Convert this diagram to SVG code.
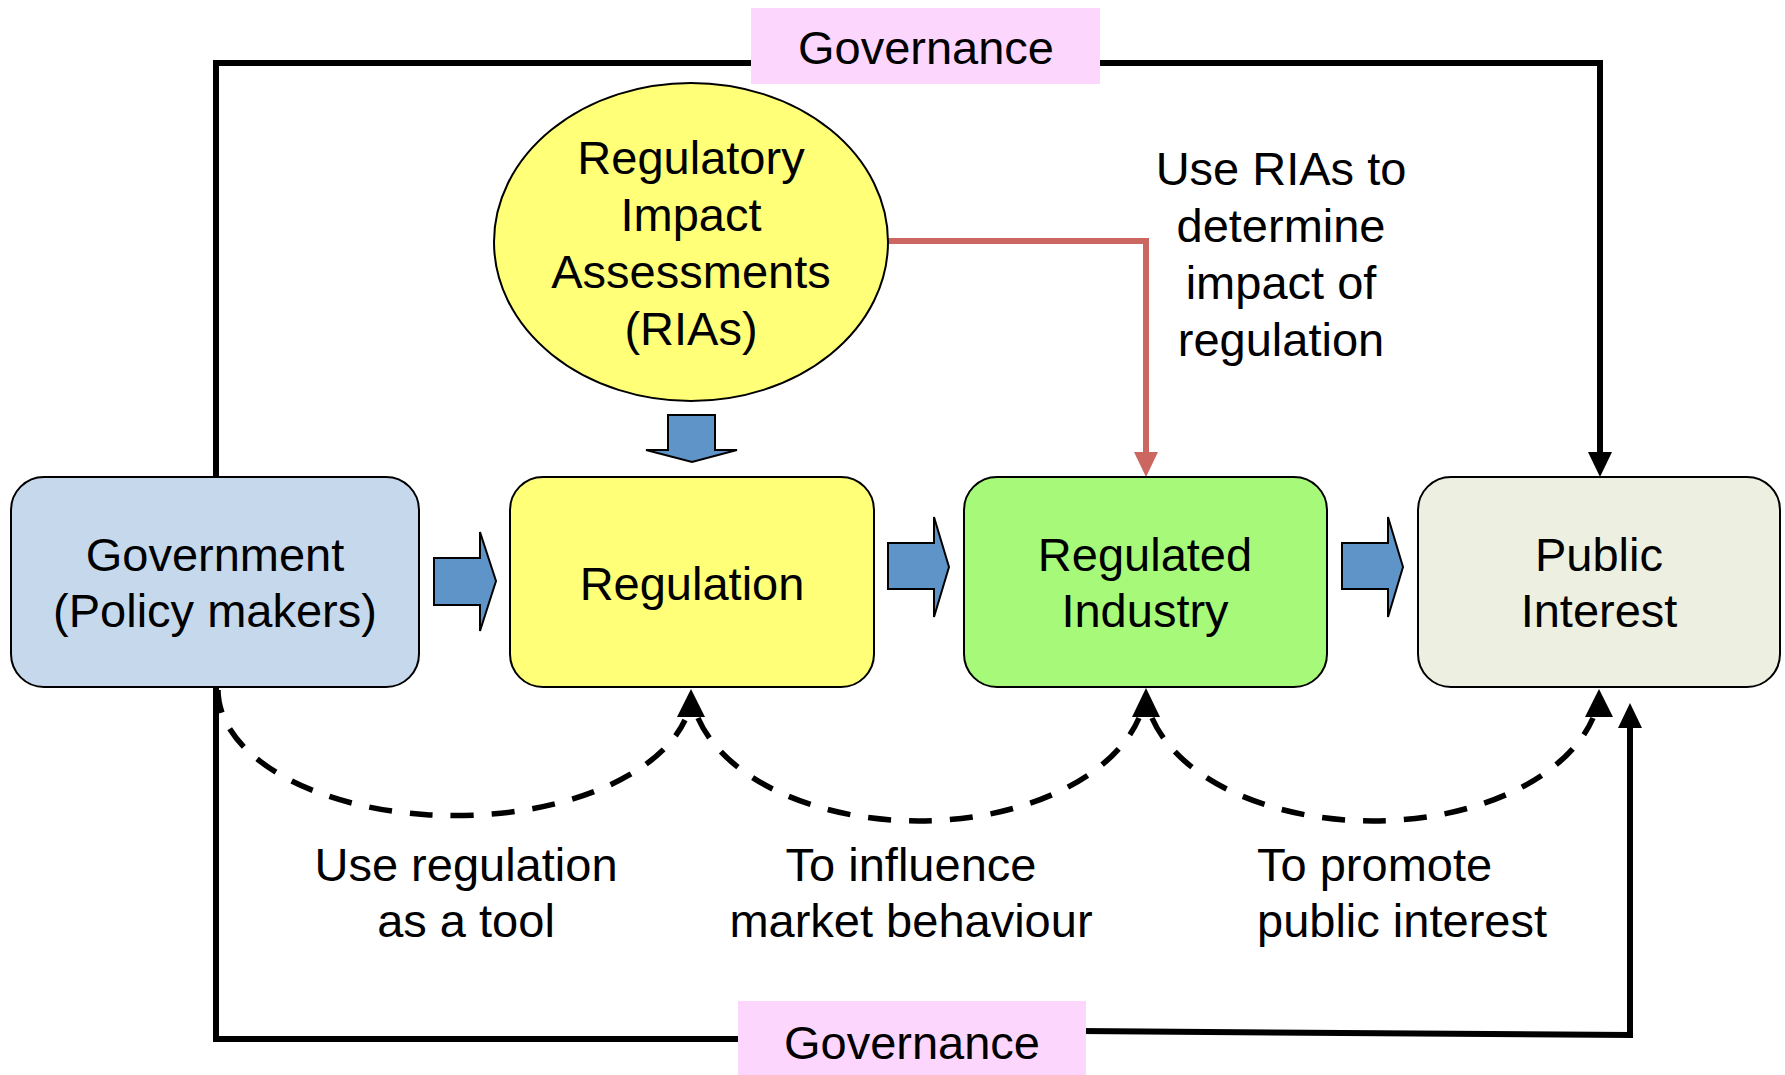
<svg xmlns="http://www.w3.org/2000/svg" width="1785" height="1075" viewBox="0 0 1785 1075">
  <style>
    text { font-family: "Liberation Sans", Arial, sans-serif; font-size: 47px; fill: #000; }
    .c { text-anchor: middle; }
    .box { stroke: #000; stroke-width: 2; }
    .gov { fill: #fdd6fd; }
    .solid { fill: none; stroke: #000; stroke-width: 6; }
    .red { fill: none; stroke: #cc6660; stroke-width: 6; }
    .dash { fill: none; stroke: #000; stroke-width: 5.5; stroke-dasharray: 23 18; }
    .block { fill: #5f94c8; stroke: #000; stroke-width: 2; stroke-linejoin: miter; }
  </style>
  <defs>
    <marker id="headBlack" markerUnits="userSpaceOnUse" markerWidth="26" markerHeight="24" refX="0" refY="12" orient="auto">
      <path d="M0,0 L25,12 L0,24 Z" fill="#000"/>
    </marker>
    <marker id="headRed" markerUnits="userSpaceOnUse" markerWidth="26" markerHeight="24" refX="0" refY="12" orient="auto">
      <path d="M0,0 L25,12 L0,24 Z" fill="#cc6660"/>
    </marker>
  </defs>

  <g id="connectors">
    <!-- top governance loop -->
    <path class="solid" d="M216 477 V63 H1600 V452" marker-end="url(#headBlack)"/>
    <!-- bottom governance loop -->
    <path class="solid" d="M216 687 V1039 H745"/>
    <path class="solid" d="M1080 1031 L1630 1035 V728" marker-end="url(#headBlack)"/>
    <!-- RIA to regulated industry -->
    <path class="red" d="M888 241 H1146 V452" marker-end="url(#headRed)"/>
    <!-- dashed arcs -->
    <path class="dash" d="M218 690 A237 126 0 0 0 685 720" />
    <path class="dash" d="M698 718 A228 138 0 0 0 1139 718" />
    <path class="dash" d="M1152 718 A228 138 0 0 0 1593 718" />
    <path d="M691 689 L705 717 L677 717 Z" fill="#000"/>
    <path d="M1146 688 L1160 717 L1132 717 Z" fill="#000"/>
    <path d="M1599 689 L1613 717 L1585 717 Z" fill="#000"/>
    <!-- block arrows -->
    <polygon class="block" points="668,415 715,415 715,450 737,450 692,462 646,450 668,450"/>
    <polygon class="block" points="434,558 480,558 480,532 496,581 480,631 480,605 434,605"/>
    <polygon class="block" points="888,543 934,543 934,517 949,567 934,617 934,589 888,589"/>
    <polygon class="block" points="1342,543 1388,543 1388,517 1403,567 1388,617 1388,589 1342,589"/>
    <!-- connector labels -->
    <text class="c" x="1281" y="185">Use RIAs to</text>
    <text class="c" x="1281" y="242">determine</text>
    <text class="c" x="1281" y="299">impact of</text>
    <text class="c" x="1281" y="356">regulation</text>
    <text class="c" x="466" y="881">Use regulation</text>
    <text class="c" x="466" y="937">as a tool</text>
    <text class="c" x="911" y="881">To influence</text>
    <text class="c" x="911" y="937">market behaviour</text>
    <text x="1257" y="881">To promote</text>
    <text x="1257" y="937">public interest</text>
  </g>

  <g id="governance-top">
    <rect class="gov" x="751" y="8" width="349" height="76"/>
    <text class="c" x="926" y="64">Governance</text>
  </g>
  <g id="governance-bottom">
    <rect class="gov" x="738" y="1001" width="348" height="74"/>
    <text class="c" x="912" y="1059">Governance</text>
  </g>

  <g id="ria">
    <ellipse class="box" cx="691" cy="242" rx="197" ry="159" fill="#ffff78"/>
    <text class="c" x="691" y="174">Regulatory</text>
    <text class="c" x="691" y="231">Impact</text>
    <text class="c" x="691" y="288">Assessments</text>
    <text class="c" x="691" y="345">(RIAs)</text>
  </g>

  <g id="government">
    <rect class="box" x="11" y="477" width="408" height="210" rx="33" ry="33" fill="#c6d9ec"/>
    <text class="c" x="215" y="571">Government</text>
    <text class="c" x="215" y="627">(Policy makers)</text>
  </g>
  <g id="regulation">
    <rect class="box" x="510" y="477" width="364" height="210" rx="33" ry="33" fill="#ffff78"/>
    <text class="c" x="692" y="600">Regulation</text>
  </g>
  <g id="regulated-industry">
    <rect class="box" x="964" y="477" width="363" height="210" rx="33" ry="33" fill="#a7f97a"/>
    <text class="c" x="1145" y="571">Regulated</text>
    <text class="c" x="1145" y="627">Industry</text>
  </g>
  <g id="public-interest">
    <rect class="box" x="1418" y="477" width="362" height="210" rx="33" ry="33" fill="#edf0e1"/>
    <text class="c" x="1599" y="571">Public</text>
    <text class="c" x="1599" y="627">Interest</text>
  </g>
</svg>
